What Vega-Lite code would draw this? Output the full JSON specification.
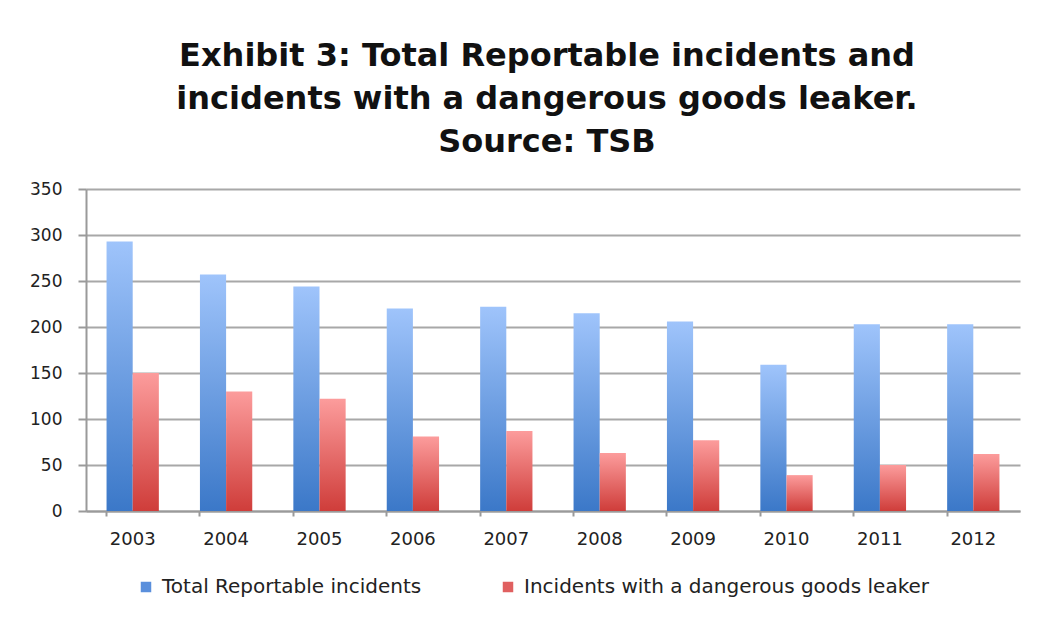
{
  "$schema": "https://vega.github.io/schema/vega-lite/v6.json",
  "autosize": "none",
  "width": 934,
  "height": 322,
  "padding": {"left": 86, "top": 189, "right": 42, "bottom": 108},
  "background": "white",
  "title": {
    "text": ["Exhibit 3: Total Reportable incidents and", "incidents with a dangerous goods leaker.", "Source: TSB"],
    "font": "DejaVu Sans",
    "fontSize": 32,
    "fontWeight": "bold",
    "color": "#111111",
    "lineHeight": 43,
    "anchor": "middle",
    "frame": "group",
    "offset": 21,
    "dx": -6
  },
  "data": {
    "values": [
      {"year": "2003", "series": "Total Reportable incidents", "value": 293},
      {"year": "2003", "series": "Incidents with a dangerous goods leaker", "value": 150},
      {"year": "2004", "series": "Total Reportable incidents", "value": 257},
      {"year": "2004", "series": "Incidents with a dangerous goods leaker", "value": 130},
      {"year": "2005", "series": "Total Reportable incidents", "value": 244},
      {"year": "2005", "series": "Incidents with a dangerous goods leaker", "value": 122},
      {"year": "2006", "series": "Total Reportable incidents", "value": 220},
      {"year": "2006", "series": "Incidents with a dangerous goods leaker", "value": 81},
      {"year": "2007", "series": "Total Reportable incidents", "value": 222},
      {"year": "2007", "series": "Incidents with a dangerous goods leaker", "value": 87},
      {"year": "2008", "series": "Total Reportable incidents", "value": 215},
      {"year": "2008", "series": "Incidents with a dangerous goods leaker", "value": 63},
      {"year": "2009", "series": "Total Reportable incidents", "value": 206},
      {"year": "2009", "series": "Incidents with a dangerous goods leaker", "value": 77},
      {"year": "2010", "series": "Total Reportable incidents", "value": 159},
      {"year": "2010", "series": "Incidents with a dangerous goods leaker", "value": 39},
      {"year": "2011", "series": "Total Reportable incidents", "value": 203},
      {"year": "2011", "series": "Incidents with a dangerous goods leaker", "value": 50},
      {"year": "2012", "series": "Total Reportable incidents", "value": 203},
      {"year": "2012", "series": "Incidents with a dangerous goods leaker", "value": 62}
    ]
  },
  "encoding": {
    "x": {
      "field": "year",
      "type": "nominal",
      "title": null,
      "scale": {"paddingInner": 0.44, "paddingOuter": 0.22},
      "axis": {
        "labelAngle": 0,
        "labelFont": "DejaVu Sans",
        "labelFontSize": 18,
        "labelColor": "#222222",
        "labelPadding": 14,
        "bandPosition": 0,
        "tickSize": 5,
        "tickColor": "#9a9a9a",
        "tickWidth": 2,
        "domainColor": "#9a9a9a",
        "domainWidth": 2,
        "grid": false
      }
    },
    "xOffset": {
      "field": "series",
      "type": "nominal",
      "scale": {"domain": ["Total Reportable incidents", "Incidents with a dangerous goods leaker"]}
    },
    "y": {
      "field": "value",
      "type": "quantitative",
      "title": null,
      "scale": {"domain": [0, 350], "nice": false},
      "axis": {
        "values": [0, 50, 100, 150, 200, 250, 300, 350],
        "labelFont": "DejaVu Sans",
        "labelFontSize": 17,
        "labelColor": "#222222",
        "labelPadding": 16,
        "tickSize": 8,
        "tickColor": "#9a9a9a",
        "tickWidth": 2,
        "domainColor": "#9a9a9a",
        "domainWidth": 2,
        "gridColor": "#a8a8a8",
        "gridWidth": 2
      }
    }
  },
  "layer": [
    {
      "transform": [{"filter": "datum.series === 'Total Reportable incidents'"}],
      "mark": {
        "type": "bar",
        "fill": {"gradient": "linear", "x1": 0, "y1": 0, "x2": 0, "y2": 1, "stops": [{"offset": 0, "color": "#9fc4fb"}, {"offset": 1, "color": "#3b78c8"}]}
      }
    },
    {
      "transform": [{"filter": "datum.series === 'Incidents with a dangerous goods leaker'"}],
      "mark": {
        "type": "bar",
        "fill": {"gradient": "linear", "x1": 0, "y1": 0, "x2": 0, "y2": 1, "stops": [{"offset": 0, "color": "#fc9c9c"}, {"offset": 1, "color": "#cf3d3a"}]}
      }
    },
    {
      "mark": {"type": "square", "opacity": 0},
      "encoding": {
        "color": {
          "field": "series",
          "type": "nominal",
          "sort": ["Total Reportable incidents", "Incidents with a dangerous goods leaker"],
          "scale": {
            "domain": ["Total Reportable incidents", "Incidents with a dangerous goods leaker"],
            "range": ["#5a8fdc", "#e06060"]
          },
          "legend": {
            "title": null,
            "orient": "none",
            "legendX": 50,
            "legendY": 388,
            "direction": "horizontal",
            "symbolType": "square",
            "symbolSize": 110,
            "symbolOpacity": 1,
            "symbolStrokeWidth": 0,
            "symbolOffset": 0,
            "labelOffset": 6,
            "labelFont": "DejaVu Sans",
            "labelFontSize": 20,
            "labelColor": "#222222",
            "labelLimit": 600,
            "columnPadding": 76
          }
        }
      }
    }
  ],
  "config": {
    "view": {"stroke": null}
  }
}
